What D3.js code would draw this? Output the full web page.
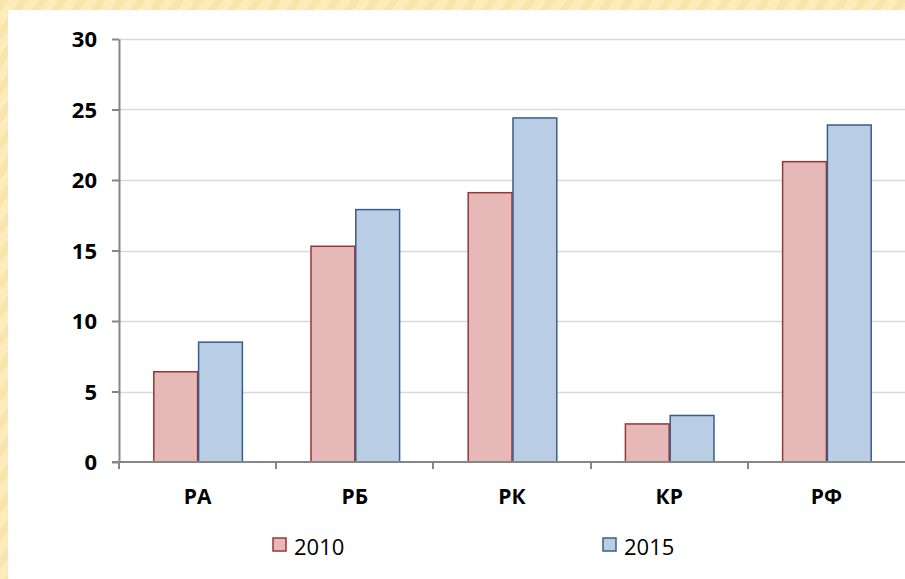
<!DOCTYPE html>
<html>
<head>
<meta charset="utf-8">
<script src="https://cdn.jsdelivr.net/npm/d3@7"></script>
<style>
  html, body { margin: 0; padding: 0; }
  body { width: 905px; height: 579px; overflow: hidden; }
  text { font-family: "Open Sans", "Noto Sans", sans-serif; }
</style>
</head>
<body>
<script>
var categories = ['РА', 'РБ', 'РК', 'КР', 'РФ'];
var years = ['2010', '2015'];
var values2010 = [6.4, 15.3, 19.1, 2.7, 21.3];
var values2015 = [8.5, 17.9, 24.4, 3.3, 23.9];
var yTicks = [0, 5, 10, 15, 20, 25, 30];

var fills = {'2010': '#e6b8b7', '2015': '#b9cde5'};
var strokes = {'2010': '#953735', '2015': '#385d8a'};

var W = 905, H = 579;
var m = {left: 119, top: 39, right: 905, bottom: 462};

var svg = d3.select('body').append('svg')
   .attr('width', W)
   .attr('height', H);

// yellow textured frame
var defs = svg.append('defs');
var pat = defs.append('pattern')
   .attr('id', 'stripes')
   .attr('width', 16)
   .attr('height', 16)
   .attr('patternUnits', 'userSpaceOnUse')
   .attr('patternTransform', 'rotate(35)');
pat.append('rect').attr('width', 16).attr('height', 16).attr('fill', '#fcebbb');
pat.append('rect').attr('width', 7).attr('height', 16).attr('fill', '#f5dfa2').attr('opacity', 0.6);
svg.append('rect')
   .attr('width', W)
   .attr('height', H)
   .attr('fill', 'url(#stripes)');
svg.append('rect')
   .attr('x', 8)
   .attr('y', 10)
   .attr('width', W - 8)
   .attr('height', H - 10)
   .attr('fill', '#fff');

var x = d3.scaleBand()
   .domain(categories)
   .range([m.left, m.right])
   .paddingInner(0.43)
   .paddingOuter(0.215);
var x0 = d3.scaleBand()
   .domain(categories)
   .range([m.left, m.right]);
var xs = d3.scaleBand()
   .domain(years)
   .range([0, x.bandwidth()]);
var y = d3.scaleLinear()
   .domain([0, 30])
   .range([m.bottom, m.top]);

// gridlines
svg.append('g')
   .selectAll('line')
   .data(yTicks.slice(1))
   .join('line')
      .attr('x1', m.left)
      .attr('x2', m.right)
      .attr('y1', function(d) { return Math.round(y(d)) + 0.5; })
      .attr('y2', function(d) { return Math.round(y(d)) + 0.5; })
      .attr('stroke', '#d9d9d9')
      .attr('stroke-width', 1.5);

// bars
var rows = categories.map(function(c, i) {
   return {cat: c, vals: [
      {year: '2010', v: values2010[i]},
      {year: '2015', v: values2015[i]}
   ]};
});
var groups = svg.append('g')
   .selectAll('g')
   .data(rows)
   .join('g')
      .attr('transform', function(d) { return 'translate(' + x(d.cat) + ',0)'; });
groups.selectAll('rect')
   .data(function(d) { return d.vals; })
   .join('rect')
      .attr('x', function(d) { return xs(d.year) + 1; })
      .attr('y', function(d) { return y(d.v); })
      .attr('width', xs.bandwidth() - 1)
      .attr('height', function(d) { return y(0) - y(d.v); })
      .attr('fill', function(d) { return fills[d.year]; })
      .attr('stroke', function(d) { return strokes[d.year]; })
      .attr('stroke-width', 1.5);

// y axis
var yAxis = svg.append('g')
   .attr('transform', 'translate(' + m.left + ',0)')
   .call(d3.axisLeft(y).tickValues(yTicks).tickSize(7).tickPadding(15).tickSizeOuter(0));
yAxis.select('.domain').attr('stroke', '#868686').attr('stroke-width', 2);
yAxis.selectAll('.tick line').attr('stroke', '#868686').attr('stroke-width', 2);
yAxis.selectAll('.tick text')
   .attr('fill', '#000')
   .attr('font-size', 22)
   .attr('font-weight', 'bold')
   .attr('dy', '0.36em');

// x axis
var xAxis = svg.append('g')
   .attr('transform', 'translate(0,' + m.bottom + ')')
   .call(d3.axisBottom(x).tickSize(0).tickPadding(27));
xAxis.select('.domain').remove();
xAxis.append('line')
   .attr('x1', m.left - 7)
   .attr('x2', m.right)
   .attr('stroke', '#868686')
   .attr('stroke-width', 2);
xAxis.selectAll('.sep')
   .data(categories)
   .join('line')
      .attr('class', 'sep')
      .attr('x1', function(d) { return Math.round(x0(d)); })
      .attr('x2', function(d) { return Math.round(x0(d)); })
      .attr('y1', 0)
      .attr('y2', 7)
      .attr('stroke', '#868686')
      .attr('stroke-width', 2);
xAxis.selectAll('.tick text')
   .attr('fill', '#000')
   .attr('font-size', 21)
   .attr('font-weight', 'bold');

// legend
var legendX = {'2010': 273, '2015': 603};
var leg = svg.append('g')
   .selectAll('g')
   .data(years)
   .join('g')
      .attr('transform', function(d) { return 'translate(' + legendX[d] + ',538)'; });
leg.append('rect')
   .attr('width', 13)
   .attr('height', 13)
   .attr('fill', function(d) { return fills[d]; })
   .attr('stroke', function(d) { return strokes[d]; })
   .attr('stroke-width', 1.5);
leg.append('text')
   .attr('x', 21)
   .attr('y', 17)
   .attr('fill', '#000')
   .attr('font-size', 22)
   .text(function(d) { return d; });
</script>
</body>
</html>
